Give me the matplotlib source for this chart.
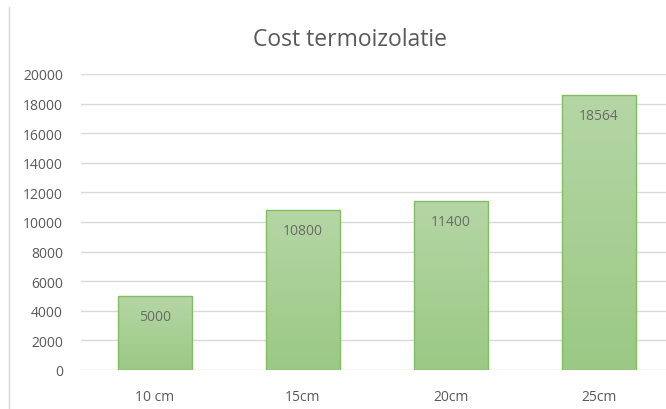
import matplotlib
matplotlib.use("Agg")
import matplotlib.pyplot as plt
import numpy as np
from matplotlib.colors import LinearSegmentedColormap
from matplotlib.lines import Line2D

categories = ["10 cm", "15cm", "20cm", "25cm"]
values = [5000, 10800, 11400, 18564]
yticks = [0, 2000, 4000, 6000, 8000, 10000, 12000, 14000, 16000, 18000, 20000]
title = "Cost termoizolatie"

plt.rcParams['font.family'] = ['Open Sans', 'DejaVu Sans']
W, H = 666, 410
fig = plt.figure(figsize=(W/100, H/100), dpi=100)
ax = fig.add_axes([81/W, 39/H, 592/W, 296/H])

text_col = "#595959"
cmap = LinearSegmentedColormap.from_list("g", ["#9bc985", "#b5d6a5"])
grad = np.linspace(0, 1, 256).reshape(-1, 1)
bw = 0.5
x = np.arange(len(categories))
for xi, v in zip(x, values):
    ax.imshow(grad, extent=[xi - bw/2, xi + bw/2, 0, v], origin="lower",
              aspect="auto", cmap=cmap, zorder=2, interpolation="bilinear")
ax.bar(x, values, width=bw, facecolor="none", edgecolor="#84bc62",
       linewidth=1, zorder=3)
for xi, v in zip(x, values):
    ax.annotate(str(v), (xi, v), xytext=(0, -14.5), textcoords="offset points",
                ha="center", va="center", fontsize=10, color="#6b6b6b", zorder=4)

ax.set_xlim(-0.5, len(categories) - 0.5)
ax.set_ylim(0, 20000)
ax.set_yticks(yticks)
ax.set_yticklabels([str(t) for t in yticks])
ax.set_xticks(x)
ax.set_xticklabels(categories)
ax.tick_params(axis="both", length=0, labelsize=10, colors=text_col)
ax.tick_params(axis="y", pad=13)
ax.tick_params(axis="x", pad=14)
ax.grid(axis="y", color="#d9d9d9", linewidth=1)
ax.set_axisbelow(True)
for s in ax.spines.values():
    s.set_visible(False)

fig.text(350/W, 1 - 40/H, title, ha="center", va="center", fontsize=16.5, color=text_col)
fig.add_artist(Line2D([8.5/W, 8.5/W], [0, 1 - 8/H], transform=fig.transFigure,
                      color="#d9d9d9", linewidth=1))

fig.savefig("out.png", dpi=100)
